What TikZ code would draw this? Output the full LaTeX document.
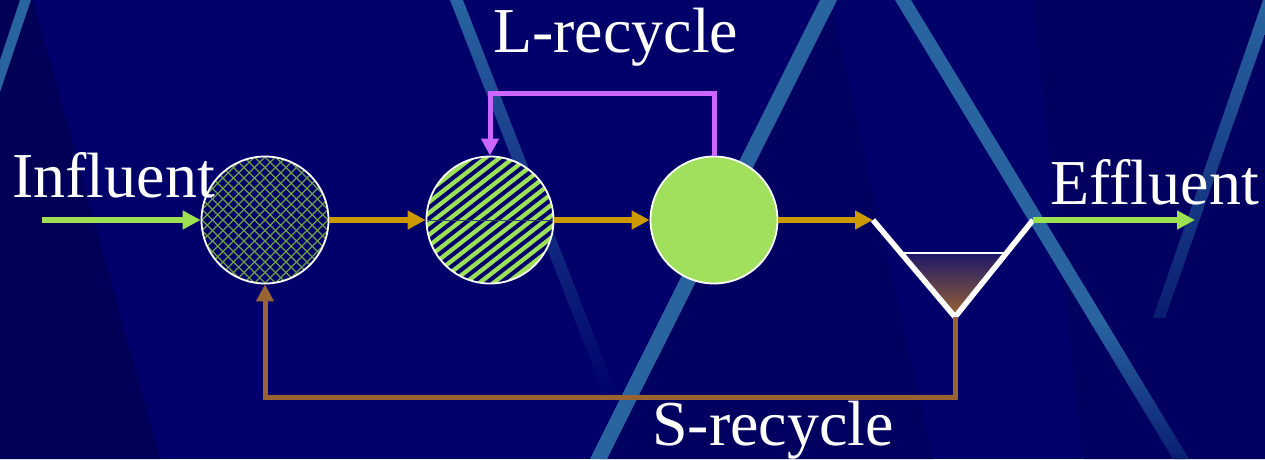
\documentclass[tikz,border=0pt]{standalone}
\usepackage{fontspec}
\setmainfont{Liberation Serif}
\usetikzlibrary{arrows.meta}
\definecolor{bg}{HTML}{00006A}
\definecolor{bgdark}{HTML}{000056}
\definecolor{bgmid}{HTML}{000060}
\definecolor{streak}{HTML}{2964A1}
\definecolor{streakfade}{HTML}{0A1E72}
\definecolor{flowgreen}{HTML}{9DE052}
\definecolor{hatchgreen}{HTML}{6FA044}
\definecolor{stripegreen}{HTML}{9CDF58}
\definecolor{fillgreen}{HTML}{A0E05C}
\definecolor{flowor}{HTML}{CC9900}
\definecolor{lpurple}{HTML}{CC66FF}
\definecolor{sbrown}{HTML}{9A6432}
\definecolor{setttop}{HTML}{1C1868}
\definecolor{settmid}{HTML}{5C4064}
\definecolor{settbot}{HTML}{9C6432}
\tikzset{
  reactor/.style={circle, draw=white, line width=1.8pt, minimum size=127pt, inner sep=0pt, fill=bg},
  flow/.style={line width=5.5pt, -{Triangle[length=18pt,width=18pt]}},
  recyc/.style={line width=5pt, -{Triangle[length=17pt,width=17pt]}},
  lbl/.style={text=white, font=\fontsize{64}{70}\selectfont, inner sep=0pt, anchor=base west},
}
\begin{document}
\begin{tikzpicture}[x=1pt,y=-1pt]
\useasboundingbox (0,0) rectangle (1265,459);
% background
\fill[bg] (0,0) rectangle (1265,459);
\fill[bgdark] (0,0) -- (33,0) -- (160,459) -- (0,459) -- cycle;
\fill[bgmid] (830,0) -- (933,459) -- (600,459) -- cycle;
\fill[bgmid] (1033,0) -- (1265,0) -- (1265,459) -- (1083,459) -- cycle;
% streaks
\fill[streak] (20,0) -- (31,0) -- (0,92) -- (0,60) -- cycle;
\shade[top color=streak, bottom color=bg] (450,0) -- (463,0) -- (619,400) -- (606,400) -- cycle;
\fill[streak] (820,0) -- (837,0) -- (607,459) -- (590,459) -- cycle;
\fill[streak] (895,0) -- (911,0) -- (1105,320) -- (1089,320) -- cycle;
\shade[top color=streak, bottom color=streakfade] (1089,320) -- (1105,320) -- (1189,459) -- (1173,459) -- cycle;
\shade[top color=streak, bottom color=streakfade] (1263,0) -- (1277,0) -- (1165,318) -- (1153,318) -- cycle;
% reactors
\node[reactor, path picture={
  \foreach \k in {-14,...,14} {
    \draw[hatchgreen, line width=1.3pt] ([shift={(\k*10.5,0)}]path picture bounding box.center) ++(-100,-100) -- ++(200,200);
    \draw[hatchgreen, line width=1.3pt] ([shift={(\k*10.5,0)}]path picture bounding box.center) ++(-100,100) -- ++(200,-200);
  }
}] (r1) at (265,220) {};
\node[reactor, path picture={
  \foreach \k in {-12,...,12} {
    \draw[stripegreen, line width=4.3pt] ([shift={(\k*14,0)}]path picture bounding box.center) ++(-90,70.3) -- ++(180,-140.6);
  }
  \draw[stripegreen!30!bg, line width=0.5pt] ([shift={(-70,0)}]path picture bounding box.center) -- ++(140,0);
}] (r2) at (490,220) {};
\node[reactor, fill=fillgreen] (r3) at (714,220) {};
% settler
\coordinate (sL) at (873,220);
\coordinate (sB) at (955,317);
\coordinate (sR) at (1033,220);
\shade[top color=setttop, middle color=settmid, bottom color=settbot] (902,253) -- (1006,253) -- (955,317) -- cycle;
\draw[white, line width=1.3pt] (902,253) -- (1006,253);
\draw[white, line width=5.5pt, line join=miter] (sL) -- (sB) -- (sR);
% flows
\coordinate (inS) at (42,220);
\coordinate (effE) at (1195,220);
\draw[flow, flowgreen] (inS) -- (r1.west);
\draw[flow, flowor] (r1.east) -- (r2.west);
\draw[flow, flowor] (r2.east) -- (r3.west);
\draw[flow, flowor] (r3.east) -- (sL);
\draw[flow, flowgreen] (sR) -- (effE);
% recycles
\coordinate (lc) at (714,93);
\draw[recyc, lpurple] (r3.north) -- (lc) -| (r2.north);
\coordinate (sc) at (955,397);
\draw[recyc, sbrown] (sB) -- (sc) -| (r1.south);
% labels
\node[lbl] (tin) at (12,197) {Influent};
\node[lbl] (tout) at (1050,204) {Effluent};
\node[lbl] (tl) at (493,52) {L-recycle};
\node[lbl] (ts) at (652,445) {S-recycle};
\end{tikzpicture}
\end{document}
